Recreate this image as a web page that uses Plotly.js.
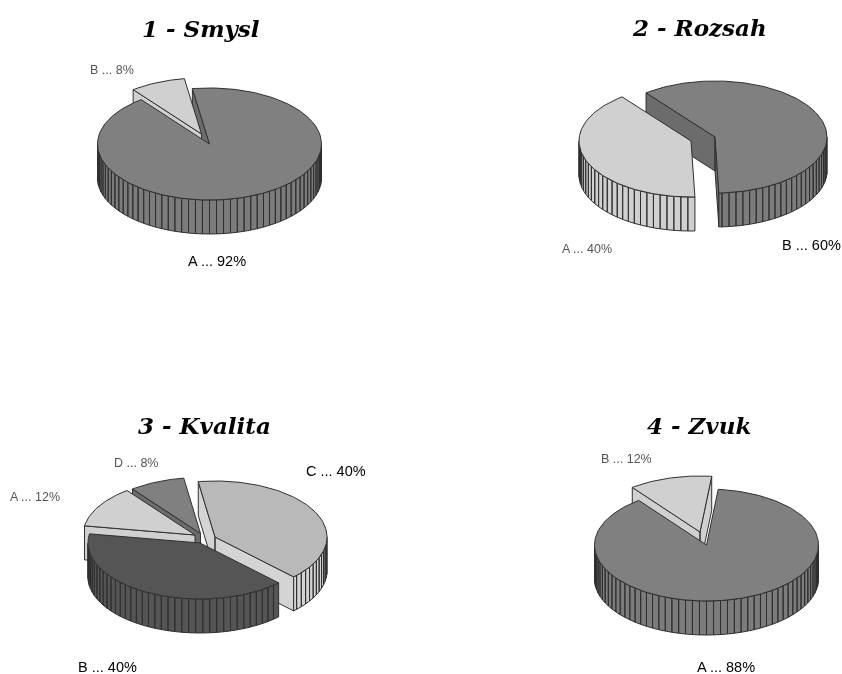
<!DOCTYPE html>
<html>
<head>
<meta charset="utf-8">
<script src="https://cdn.plot.ly/plotly-3.0.1.min.js"></script>
<style>html,body{margin:0;padding:0;background:#fff}#chart{width:842px;height:674px}.main-svg{will-change:transform}</style>
</head>
<body>
<div id="chart"></div>
<script>
// Survey shares for each question, listed clockwise from the first slice.
const smyslNames = ['A', 'B'];
const smyslValues = [92, 8];
const rozsahNames = ['B', 'A'];
const rozsahValues = [60, 40];
const kvalitaNames = ['C', 'B', 'A', 'D'];
const kvalitaValues = [40, 40, 12, 8];
const zvukNames = ['A', 'B'];
const zvukValues = [88, 12];

// Slice colours: top face, outer wall, cut wall.
const MID = ['#808080', '#7c7c7c', '#6c6c6c'];
const PALE = ['#d0d0d0', '#d0d0d0', '#d0d0d0'];
const DARK = ['#555555', '#555555', '#555555'];
const SILVER = ['#b9b9b9', '#d4d4d4', '#d4d4d4'];

const EDGE = '#303030';
const RX = 112, RY = 56, DEPTH = 34;
const WALL_STEP = 3.6, ARC_STEP = 1.5;

// Pie placement: centre, first-slice angle, per-slice explosion shift and look,
// paint order back to front, and cut walls that sit behind another slice.
const pies = [
  { title: '1 - Smysl', titleAt: [201, 28], names: smyslNames, values: smyslValues,
    cx: 209.5, cy: 144, start: -8.8,
    shift: [[0, 0], [-8, -10]], look: [MID, PALE],
    order: [1, 0], wallsFirst: [0],
    labels: [[217, 261, 1], [112, 70, 0]] },
  { title: '2 - Rozsah', titleAt: [699, 27], names: rozsahNames, values: rozsahValues,
    cx: 715, cy: 137, start: -38,
    shift: [[0, 0], [-24, 4]], look: [MID, PALE],
    order: [0, 1], wallsFirst: [],
    labels: [[811, 245, 1], [587, 249, 0]] },
  { title: '3 - Kvalita', titleAt: [204, 425], names: kvalitaNames, values: kvalitaValues,
    cx: 200, cy: 543, start: -8.6,
    shift: [[15, -6], [0, 0], [-5, -8], [0.5, -9.5]], look: [SILVER, DARK, PALE, MID],
    order: [3, 2, 0, 1], wallsFirst: [],
    labels: [[336, 471, 1], [107, 666.5, 1], [35, 497, 0], [136, 463, 0]] },
  { title: '4 - Zvuk', titleAt: [699, 425], names: zvukNames, values: zvukValues,
    cx: 706.5, cy: 545, start: 6,
    shift: [[0, 0], [-6.5, -13]], look: [MID, PALE],
    order: [1, 0], wallsFirst: [],
    labels: [[726, 666.5, 1], [626, 459, 0]] }
];

const rad = d => d * Math.PI / 180;
const rimX = (cx, t) => cx + RX * Math.sin(rad(t));
const rimY = (cy, t) => cy - RY * Math.cos(rad(t));

function polygonTrace(xs, ys, fill) {
  return { type: 'scatter', mode: 'lines', x: xs, y: ys, fill: 'toself', fillcolor: fill,
           line: { color: EDGE, width: 1 }, hoverinfo: 'skip', showlegend: false };
}

function topFace(s) {
  const xs = [s.cx], ys = [s.cy];
  for (let t = s.from; t < s.to; t += ARC_STEP) { xs.push(rimX(s.cx, t)); ys.push(rimY(s.cy, t)); }
  xs.push(rimX(s.cx, s.to), s.cx); ys.push(rimY(s.cy, s.to), s.cy);
  return polygonTrace(xs, ys, s.look[0]);
}

// Radial cut faces; only those turned toward the viewer are drawn.
function cutWalls(s) {
  const xs = [], ys = [];
  const facing = [];
  if (Math.sin(rad(s.from)) < 0) facing.push(s.from);
  if (Math.sin(rad(s.to)) > 0) facing.push(s.to);
  facing.forEach(t => {
    const x = rimX(s.cx, t), y = rimY(s.cy, t);
    xs.push(s.cx, x, x, s.cx, s.cx, null);
    ys.push(s.cy, y, y + DEPTH, s.cy + DEPTH, s.cy, null);
  });
  return xs.length ? polygonTrace(xs, ys, s.look[2]) : null;
}

// Outer wall: only the part of the rim that faces the viewer, split into ribs.
function outerWall(s) {
  const xs = [], ys = [];
  for (const turn of [0, 360, -360]) {
    const a = Math.max(s.from + turn, 90), b = Math.min(s.to + turn, 270);
    if (a >= b) continue;
    for (let t = a; t < b; t += WALL_STEP) {
      const u = Math.min(t + WALL_STEP, b);
      const x0 = rimX(s.cx, t), x1 = rimX(s.cx, u), y0 = rimY(s.cy, t), y1 = rimY(s.cy, u);
      xs.push(x0, x1, x1, x0, x0, null);
      ys.push(y0, y1, y1 + DEPTH, y0 + DEPTH, y0, null);
    }
  }
  return xs.length ? polygonTrace(xs, ys, s.look[1]) : null;
}

const traces = [], annotations = [];
const add = t => { if (t) traces.push(t); };

pies.forEach(p => {
  let angle = p.start;
  const slices = p.values.map((v, i) => {
    const s = { from: angle, to: angle + v * 3.6, look: p.look[i],
                cx: p.cx + p.shift[i][0], cy: p.cy + p.shift[i][1] };
    angle = s.to;
    return s;
  });
  p.wallsFirst.forEach(i => add(cutWalls(slices[i])));
  p.order.forEach(i => {
    if (!p.wallsFirst.includes(i)) add(cutWalls(slices[i]));
    add(outerWall(slices[i]));
    add(topFace(slices[i]));
  });

  annotations.push({ xref: 'x', yref: 'y', x: p.titleAt[0], y: p.titleAt[1], text: '<b><i>' + p.title + '</i></b>',
    showarrow: false, xanchor: 'center', yanchor: 'middle',
    font: { family: 'DejaVu Serif', size: 23, color: '#000' } });

  p.values.forEach((v, i) => {
    const [x, y, strong] = p.labels[i];
    annotations.push({ xref: 'x', yref: 'y', x, y, text: p.names[i] + ' ... ' + v + '%',
      showarrow: false, xanchor: 'center', yanchor: 'middle', borderpad: 0,
      font: { family: 'Liberation Sans', size: strong ? 14.5 : 12.5, color: strong ? '#000' : '#555' } });
  });
});

const hiddenAxis = { visible: false, fixedrange: true, showgrid: false, zeroline: false };
Plotly.newPlot('chart', traces, {
  width: 842, height: 674,
  margin: { l: 0, r: 0, t: 0, b: 0 },
  paper_bgcolor: '#fff', plot_bgcolor: '#fff',
  showlegend: false,
  xaxis: Object.assign({ range: [0, 842] }, hiddenAxis),
  yaxis: Object.assign({ range: [674, 0] }, hiddenAxis),
  annotations
}, { displayModeBar: false, staticPlot: true });
</script>
</body>
</html>
